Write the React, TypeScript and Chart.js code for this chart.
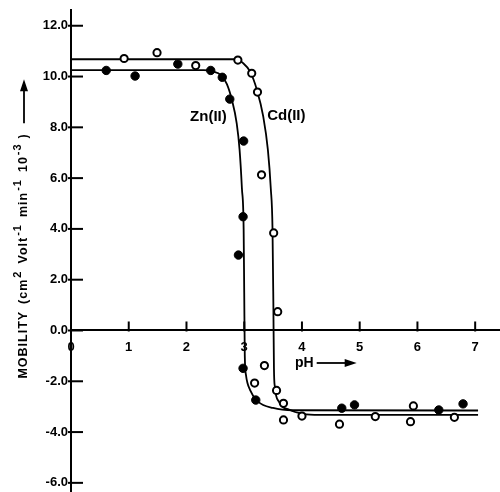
import React, { useEffect, useRef } from "react";
import { Chart, registerables } from "chart.js";

Chart.register(...registerables);

// Zn(II) measured points [pH, mobility]
const znPH = [0.61, 1.11, 1.85, 2.42, 2.62, 2.75, 2.99, 2.98, 2.9, 2.98, 3.2, 4.69, 4.91, 6.37, 6.79];
const znMob = [10.24, 10.02, 10.49, 10.24, 9.97, 9.11, 7.46, 4.48, 2.97, -1.49, -2.74, -3.06, -2.93, -3.13, -2.89];

// Cd(II) measured points
const cdPH = [0.92, 1.49, 2.16, 2.89, 3.13, 3.23, 3.3, 3.51, 3.58, 3.35, 3.18, 3.56, 3.68, 3.68, 4.0, 4.65, 5.27, 5.93, 5.88, 6.64];
const cdMob = [10.71, 10.94, 10.43, 10.65, 10.13, 9.39, 6.13, 3.84, 0.74, -1.38, -2.07, -2.36, -2.87, -3.52, -3.37, -3.69, -3.39, -2.97, -3.59, -3.42];

// Fitted curves
const znCurvePH = [0, 2.3, 2.45, 2.6, 2.7, 2.79, 2.87, 2.92, 2.96, 2.99, 3.0, 3.01, 3.03, 3.1, 3.24, 3.5, 3.85, 7.05];
const znCurveMob = [10.25, 10.25, 10.2, 10.05, 9.7, 9.05, 8.16, 7.11, 5.6, 4.0, 1.5, -1.0, -1.75, -2.34, -2.8, -3.05, -3.14, -3.15];
const cdCurvePH = [0, 2.87, 2.97, 3.1, 3.22, 3.33, 3.41, 3.46, 3.49, 3.505, 3.515, 3.53, 3.6, 3.79, 4.02, 4.3, 7.05];
const cdCurveMob = [10.68, 10.68, 10.55, 10.2, 9.47, 8.42, 7.11, 5.6, 4.0, 1.0, -1.5, -2.2, -2.8, -3.13, -3.28, -3.32, -3.32];

// Axis ranges and ticks
const X_MIN = 0;
const X_MAX = 7.43;
const Y_MIN = -6.36;
const Y_MAX = 12.62;
const X_STEP = 1;
const Y_STEP = 2;

// Annotation texts and anchor values (data units)
const ZN_LABEL = "Zn(II)";
const ZN_LABEL_AT = [2.38, 8.4];
const CD_LABEL = "Cd(II)";
const CD_LABEL_AT = [3.73, 8.45];
const PH_LABEL = "pH";
const PH_LABEL_AT = [3.88, -1.28];
const Y_TITLE_CENTER = 4.0;

const FONT = '"Liberation Sans", Arial, sans-serif';

const toXY = (xs: number[], ys: number[]) => xs.map((x, i) => ({ x, y: ys[i] }));

const decorPlugin = {
  id: "decor",
  afterDraw(chart: any) {
    const { ctx, scales } = chart;
    const xs = scales.x;
    const ys = scales.y;
    const x0 = xs.getPixelForValue(0);
    const y0 = ys.getPixelForValue(0);
    ctx.save();
    ctx.strokeStyle = "#000";
    ctx.fillStyle = "#000";
    ctx.lineWidth = 2;
    // y tick marks (crossing the axis, mostly inside)
    ys.ticks.forEach((t: any) => {
      const py = ys.getPixelForValue(t.value);
      ctx.beginPath();
      ctx.moveTo(x0 - 3, py);
      ctx.lineTo(x0 + 12, py);
      ctx.stroke();
    });
    // x tick marks (upward)
    xs.ticks.forEach((t: any) => {
      if (t.value === 0) return;
      const px = xs.getPixelForValue(t.value);
      ctx.beginPath();
      ctx.moveTo(px, y0 - 9);
      ctx.lineTo(px, y0 + 1);
      ctx.stroke();
    });

    // series labels
    ctx.font = `bold 15px ${FONT}`;
    ctx.textAlign = "center";
    ctx.textBaseline = "middle";
    ctx.fillText(ZN_LABEL, xs.getPixelForValue(ZN_LABEL_AT[0]), ys.getPixelForValue(ZN_LABEL_AT[1]));
    ctx.fillText(CD_LABEL, xs.getPixelForValue(CD_LABEL_AT[0]), ys.getPixelForValue(CD_LABEL_AT[1]));

    // pH arrow label
    ctx.font = `bold 14px ${FONT}`;
    ctx.textAlign = "left";
    const phx = xs.getPixelForValue(PH_LABEL_AT[0]);
    const phy = ys.getPixelForValue(PH_LABEL_AT[1]);
    ctx.fillText(PH_LABEL, phx, phy);
    const w = ctx.measureText(PH_LABEL).width;
    ctx.lineWidth = 1.8;
    ctx.beginPath();
    ctx.moveTo(phx + w + 3, phy);
    ctx.lineTo(phx + w + 33, phy);
    ctx.stroke();
    ctx.beginPath();
    ctx.moveTo(phx + w + 43, phy);
    ctx.lineTo(phx + w + 31, phy - 4);
    ctx.lineTo(phx + w + 31, phy + 4);
    ctx.closePath();
    ctx.fill();

    // y axis title (rotated)
    const parts: [string, boolean, number][] = [
      ["MOBILITY", false, 7],
      ["(cm", false, 1],
      ["2", true, 7],
      ["Volt", false, 1],
      ["-1", true, 7],
      ["min", false, 1],
      ["-1", true, 7],
      ["10", false, 1],
      ["-3", true, 5],
      [")", false, 10],
    ];
    const mainFont = `bold 12.5px ${FONT}`;
    const supFont = `bold 11px ${FONT}`;
    (ctx as any).letterSpacing = "1px";
    let total = 0;
    parts.forEach(([s, sup, gap]) => {
      ctx.font = sup ? supFont : mainFont;
      total += ctx.measureText(s).width + gap;
    });
    const arrowLen = 44;
    total += arrowLen;
    ctx.translate(24, ys.getPixelForValue(Y_TITLE_CENTER));
    ctx.rotate(-Math.PI / 2);
    let cx = -total / 2;
    ctx.textAlign = "left";
    ctx.textBaseline = "middle";
    parts.forEach(([s, sup, gap]) => {
      ctx.font = sup ? supFont : mainFont;
      ctx.fillText(s, cx, sup ? -6 : 0);
      cx += ctx.measureText(s).width + gap;
    });
    ctx.lineWidth = 1.8;
    ctx.beginPath();
    ctx.moveTo(cx, 0);
    ctx.lineTo(cx + arrowLen - 10, 0);
    ctx.stroke();
    ctx.beginPath();
    ctx.moveTo(cx + arrowLen, 0);
    ctx.lineTo(cx + arrowLen - 12, -4);
    ctx.lineTo(cx + arrowLen - 12, 4);
    ctx.closePath();
    ctx.fill();
    ctx.restore();
  },
};

export default function App() {
  const ref = useRef<HTMLCanvasElement | null>(null);
  useEffect(() => {
    if (!ref.current) return;
    const chart = new Chart(ref.current, {
      type: "scatter",
      data: {
        datasets: [
          {
            label: "Zn points",
            data: toXY(znPH, znMob),
            showLine: false,
            pointRadius: 4.2,
            pointBackgroundColor: "#000",
            pointBorderColor: "#000",
            pointBorderWidth: 1,
            order: 0,
          },
          {
            label: "Cd points",
            data: toXY(cdPH, cdMob),
            showLine: false,
            pointRadius: 3.6,
            pointBackgroundColor: "#fff",
            pointBorderColor: "#000",
            pointBorderWidth: 2,
            order: 0,
          },
          {
            label: "Zn curve",
            data: toXY(znCurvePH, znCurveMob),
            showLine: true,
            pointRadius: 0,
            borderColor: "#000",
            borderWidth: 1.8,
            cubicInterpolationMode: "monotone",
            order: 1,
          },
          {
            label: "Cd curve",
            data: toXY(cdCurvePH, cdCurveMob),
            showLine: true,
            pointRadius: 0,
            borderColor: "#000",
            borderWidth: 1.8,
            cubicInterpolationMode: "monotone",
            order: 1,
          },
        ],
      },
      options: {
        animation: false,
        responsive: true,
        maintainAspectRatio: false,
        layout: { autoPadding: false, padding: { top: 10, right: 0, bottom: 0, left: 0 } },
        plugins: { legend: { display: false }, tooltip: { enabled: false } },
        scales: {
          x: {
            type: "linear",
            position: { y: 0 } as any,
            min: X_MIN,
            max: X_MAX,
            grid: { display: true, drawOnChartArea: false, drawTicks: false },
            border: { display: true, color: "#000", width: 2 },
            ticks: {
              stepSize: X_STEP,
              includeBounds: false,
              padding: 9,
              color: "#000",
              font: { family: FONT, size: 13, weight: "bold" },
              maxRotation: 0,
            },
            afterFit: (scale: any) => {
              scale.paddingLeft = 0;
              scale.paddingRight = 0;
              scale.paddingTop = 0;
              scale.paddingBottom = 0;
            },
          },
          y: {
            type: "linear",
            position: "left",
            min: Y_MIN,
            max: Y_MAX,
            grid: { display: true, drawOnChartArea: false, drawTicks: false },
            border: { display: true, color: "#000", width: 2 },
            ticks: {
              stepSize: Y_STEP,
              includeBounds: false,
              padding: 3,
              color: "#000",
              font: { family: FONT, size: 13, weight: "bold" },
              callback: (v: any) => Number(v).toFixed(1),
            },
            afterFit: (scale: any) => {
              scale.width = 71;
              scale.paddingTop = 0;
              scale.paddingBottom = 0;
            },
          },
        },
      },
      plugins: [decorPlugin],
    });
    return () => chart.destroy();
  }, []);
  return (
    <div style={{ position: "absolute", left: 0, top: 0, width: 500, height: 492, background: "#fff" }}>
      <canvas ref={ref} />
    </div>
  );
}
